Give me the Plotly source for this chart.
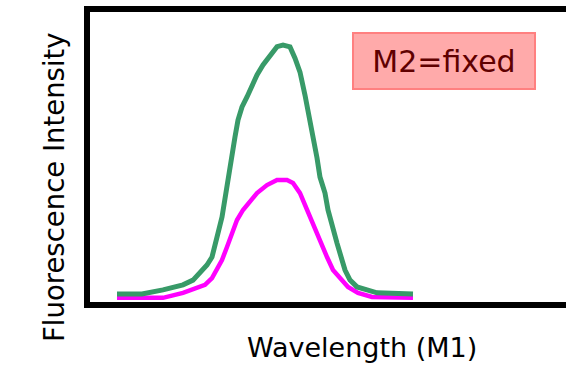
import plotly.graph_objects as go

# Wavelength (arbitrary units) and intensities
wl_green = [415, 427.5, 438, 448, 453, 456.5, 460, 462.5, 464, 465.5, 467.5, 469, 470.5,
            472.5, 474, 475.5, 477.5, 480, 482.5, 485, 488, 491.5, 495, 498, 501.5, 504,
            506.5, 509, 511.5, 513, 515, 516.5, 519, 520.5, 523, 525, 527.5, 529, 531.5,
            535, 540, 545, 563]
int_green = [3.7, 3.7, 5.1, 6.8, 8.4, 11.1, 13.5, 16.2, 19.6, 24.3, 29.7, 36.5, 43.2,
             50.0, 56.8, 62.5, 66.9, 70.3, 74.3, 77.7, 81.1, 84.5, 87.3, 87.8, 87.2, 83.4,
             78.7, 70.9, 62.5, 55.7, 49.7, 43.2, 37.8, 32.1, 25.3, 20.9, 15.2, 11.8, 8.4,
             6.1, 5.1, 4.1, 3.7]

wl_magenta = [415, 438, 448, 454, 459, 462.5, 465, 467.5, 470, 472.5, 475, 478, 481.5,
              485, 490, 495, 500, 503, 506.5, 509, 511.5, 514, 516.5, 520, 523, 526.5,
              530.5, 535.5, 542.5, 563]
int_magenta = [2.4, 2.4, 4.1, 5.7, 6.8, 9.1, 11.8, 15.2, 19.6, 24.7, 28.7, 32.1, 34.8,
               37.8, 40.5, 42.2, 42.2, 41.2, 37.8, 33.8, 29.7, 25.3, 20.9, 16.2, 11.8, 9.1,
               6.1, 4.1, 2.7, 2.4]

x_title = "Wavelength (M1)"
y_title = "Fluorescence Intensity"
box_label = "M2=fixed"

fig = go.Figure()
fig.add_trace(go.Scatter(x=wl_magenta, y=int_magenta, mode="lines",
                         line=dict(color="#ff00ff", width=4.5), showlegend=False))
fig.add_trace(go.Scatter(x=wl_green, y=int_green, mode="lines",
                         line=dict(color="#389a68", width=5), showlegend=False))

font = "DejaVu Sans"
fig.update_layout(
    width=566, height=383,
    margin=dict(l=90, r=0, t=12, b=81),
    paper_bgcolor="white", plot_bgcolor="white",
    xaxis=dict(range=[401.5, 639.5], showline=True, linewidth=6, linecolor="black",
               mirror=True, showgrid=False, zeroline=False, showticklabels=False, ticks=""),
    yaxis=dict(range=[1, 99], showline=True, linewidth=6, linecolor="black",
               showgrid=False, zeroline=False, showticklabels=False, ticks=""),
    annotations=[
        dict(text=box_label, x=578.5, y=82.4, xref="x", yref="y", showarrow=False,
             font=dict(family=font, size=30, color="#600000"),
             bgcolor="#ffaaaa", bordercolor="#ff8080", borderwidth=2,
             width=178, height=52),
        dict(text=x_title, x=(362 - 90) / 476, y=(302 - 365) / 290, xref="paper", yref="paper",
             showarrow=False, font=dict(family=font, size=27, color="black")),
        dict(text=y_title, x=(36 - 90) / 476, y=(302 - 187) / 290, xref="paper", yref="paper",
             showarrow=False, textangle=-90, font=dict(family=font, size=27.5, color="black")),
    ],
)

fig.write_html("out.html")
